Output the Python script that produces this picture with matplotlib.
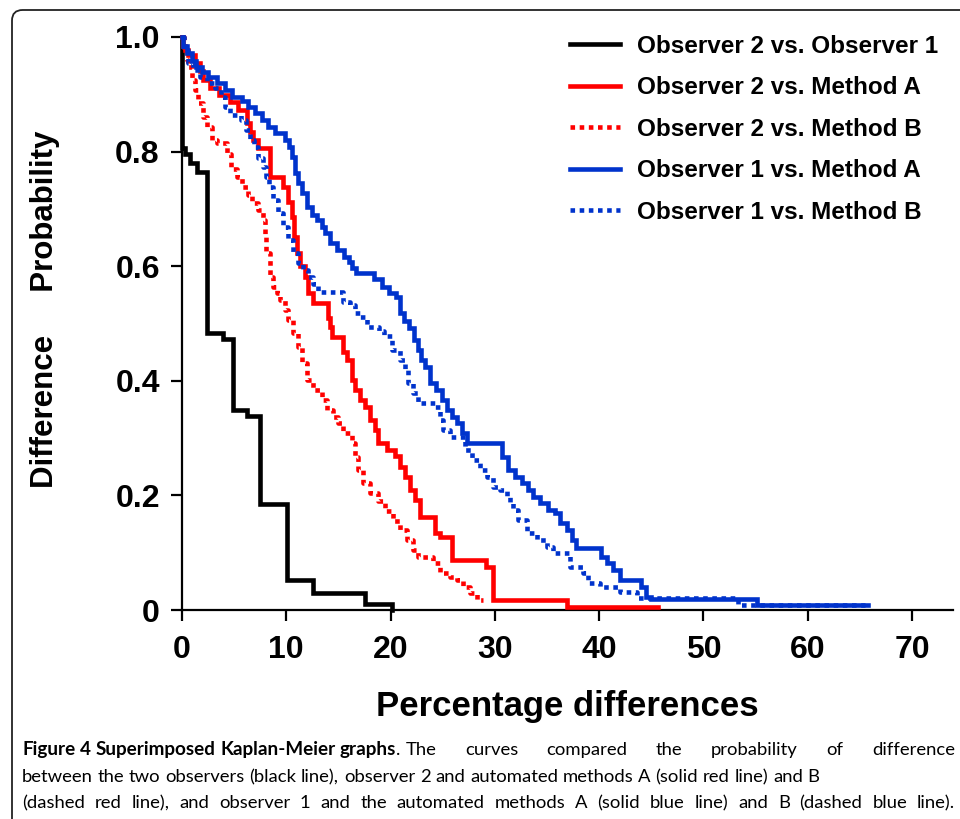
import matplotlib
matplotlib.use("Agg")
import matplotlib.pyplot as plt
from matplotlib.patches import FancyBboxPatch

# ---------------- data (Kaplan-Meier step curves) ----------------
obs2_obs1_t = [0, 0, 0.3, 0.8, 1.4, 2.4, 3.9, 4.9, 6.2, 7.5, 10.1, 12.6, 17.5, 20.1]
obs2_obs1_s = [1.0, 0.806, 0.795, 0.78, 0.765, 0.483, 0.473, 0.349, 0.339, 0.185, 0.052, 0.030, 0.010, 0.0]

obs2_mA_t = [0, 0.1, 0.3, 0.6, 1.2, 1.7, 2.0, 2.7, 3.5, 4.6, 5.4, 6.2, 6.5, 6.8, 7.3, 8.4, 9.7, 10.2, 10.5, 10.7,
             11.0, 11.3, 11.8, 12.1, 12.6, 14.0, 14.2, 14.4, 15.4, 15.8, 16.3, 16.6, 17.1, 17.5, 18.0, 18.5, 18.8,
             19.7, 20.4, 20.9, 21.4, 21.9, 22.3, 22.8, 24.3, 24.7, 25.9, 29.1, 29.8, 36.9, 45.6]
obs2_mA_s = [1.0, 0.985, 0.977, 0.969, 0.955, 0.94, 0.925, 0.911, 0.899, 0.887, 0.873, 0.85, 0.835, 0.82, 0.806,
             0.756, 0.738, 0.712, 0.686, 0.651, 0.623, 0.60, 0.581, 0.553, 0.536, 0.51, 0.494, 0.476, 0.45, 0.436,
             0.401, 0.384, 0.366, 0.354, 0.332, 0.314, 0.291, 0.279, 0.268, 0.25, 0.232, 0.209, 0.192, 0.162,
             0.134, 0.127, 0.087, 0.075, 0.017, 0.005, 0.005]

obs2_mB_t = [0, 0.2, 0.5, 0.6, 1.0, 1.2, 1.5, 2.0, 2.4, 2.9, 3.4, 4.3, 4.7, 5.3, 5.8, 6.3, 6.7, 7.3, 7.8, 8.0,
             8.1, 8.4, 8.7, 9.1, 9.4, 9.9, 10.2, 10.6, 11.1, 11.5, 12.0, 12.6, 13.4, 13.9, 14.5, 15.0, 15.4, 16.3,
             16.6, 16.9, 17.4, 18.0, 18.8, 19.5, 20.2, 20.9, 21.6, 22.1, 22.6, 24.1, 24.7, 25.7, 26.4, 26.9, 27.6,
             28.3, 28.9]
obs2_mB_s = [1.0, 0.98, 0.96, 0.948, 0.925, 0.907, 0.885, 0.86, 0.843, 0.82, 0.815, 0.795, 0.77, 0.756, 0.738,
             0.725, 0.71, 0.698, 0.681, 0.651, 0.623, 0.581, 0.564, 0.553, 0.541, 0.524, 0.506, 0.483, 0.459, 0.431,
             0.401, 0.384, 0.366, 0.349, 0.337, 0.326, 0.309, 0.291, 0.267, 0.244, 0.222, 0.204, 0.19, 0.172, 0.155,
             0.14, 0.122, 0.105, 0.093, 0.082, 0.065, 0.058, 0.052, 0.04, 0.03, 0.017, 0.017]

obs1_mA_t = [0, 0.1, 0.5, 1.0, 1.3, 1.9, 2.5, 3.4, 4.1, 4.8, 5.8, 6.3, 7.0, 7.7, 8.2, 8.9, 9.9, 10.3, 10.5, 10.8,
             11.1, 11.5, 12.0, 12.5, 12.9, 13.4, 13.7, 14.2, 14.9, 15.5, 16.0, 16.3, 16.7, 18.4, 19.2, 19.8, 20.5,
             20.9, 21.3, 21.8, 22.2, 22.6, 22.9, 23.3, 23.8, 24.4, 24.9, 25.4, 25.9, 26.4, 26.8, 27.3, 30.7, 31.3,
             31.9, 32.6, 33.2, 33.7, 34.3, 35.1, 35.8, 36.2, 36.9, 37.4, 37.8, 40.2, 40.7, 41.3, 42.0, 44.0, 44.5,
             45.0, 55.1, 65.8]
obs1_mA_s = [1.0, 0.985, 0.972, 0.958, 0.948, 0.939, 0.93, 0.92, 0.907, 0.895, 0.888, 0.878, 0.867, 0.855, 0.843,
             0.832, 0.82, 0.808, 0.79, 0.763, 0.745, 0.727, 0.703, 0.689, 0.681, 0.668, 0.658, 0.641, 0.628, 0.616,
             0.607, 0.596, 0.588, 0.578, 0.564, 0.553, 0.546, 0.518, 0.505, 0.492, 0.471, 0.454, 0.436, 0.424,
             0.396, 0.384, 0.366, 0.349, 0.337, 0.326, 0.309, 0.291, 0.267, 0.244, 0.232, 0.222, 0.209, 0.197,
             0.187, 0.175, 0.169, 0.152, 0.14, 0.122, 0.108, 0.093, 0.082, 0.07, 0.052, 0.04, 0.023, 0.019, 0.009,
             0.009]

obs1_mB_t = [0, 0.2, 0.6, 1.05, 1.7, 2.4, 3.2, 3.7, 4.1, 4.6, 5.7, 6.1, 6.5, 6.9, 7.3, 7.8, 8.1, 8.3, 8.7, 9.2,
             9.7, 10.2, 10.6, 11.1, 11.6, 12.1, 12.6, 13.0, 15.4, 16.1, 16.6, 17.1, 17.7, 18.9, 19.4, 20.1, 20.9,
             21.4, 21.7, 22.1, 22.6, 24.3, 24.7, 25.0, 25.7, 27.1, 27.8, 28.6, 29.2, 29.8, 30.5, 31.2, 31.4, 31.7,
             32.2, 33.1, 34.0, 35.0, 35.6, 37.2, 38.4, 38.9, 40.1, 42.0, 43.6, 53.3, 65.5]
obs1_mB_s = [1.0, 0.977, 0.955, 0.942, 0.93, 0.92, 0.911, 0.895, 0.878, 0.864, 0.855, 0.838, 0.82, 0.808, 0.789,
             0.773, 0.756, 0.738, 0.716, 0.693, 0.668, 0.646, 0.623, 0.606, 0.593, 0.581, 0.569, 0.555, 0.538, 0.532,
             0.518, 0.511, 0.494, 0.487, 0.478, 0.454, 0.436, 0.42, 0.396, 0.379, 0.361, 0.354, 0.332, 0.314, 0.302,
             0.279, 0.262, 0.244, 0.232, 0.215, 0.209, 0.197, 0.187, 0.175, 0.157, 0.134, 0.122, 0.11, 0.099, 0.075,
             0.064, 0.047, 0.04, 0.031, 0.021, 0.009, 0.009]

series_labels = ["Observer 2 vs. Observer 1", "Observer 2 vs. Method A", "Observer 2 vs. Method B",
                 "Observer 1 vs. Method A", "Observer 1 vs. Method B"]
x_ticks = [0, 10, 20, 30, 40, 50, 60, 70]
y_ticks = [0, 0.2, 0.4, 0.6, 0.8, 1.0]
y_tick_labels = ["0", "0.2", "0.4", "0.6", "0.8", "1.0"]

caption_bold = "Figure 4 Superimposed Kaplan-Meier graphs"
caption_rest = ". The curves compared the probability of difference"
caption_line2 = "between the two observers (black line), observer 2 and automated methods A (solid red line) and B"
caption_line3 = "(dashed red line), and observer 1 and the automated methods A (solid blue line) and B (dashed blue line)."

# ---------------- figure ----------------
W, H = 960, 819
fig = plt.figure(figsize=(W / 100, H / 100), dpi=100)
FONT = "Liberation Sans"
RED = "#ff0000"
BLUE = "#0033cc"

# rounded frame around the figure panel
frame = FancyBboxPatch((12 / W, -0.05), 1.2, 1.05 - 10 / H,
                       boxstyle="round,pad=0,rounding_size=0.011", mutation_aspect=W / H,
                       transform=fig.transFigure, fill=False, edgecolor="#222222", linewidth=1.3)
fig.patches.append(frame)

x0, x1 = 182, 953
y0, y1 = 610, 37
ax = fig.add_axes([x0 / W, 1 - y0 / H, (x1 - x0) / W, (y0 - y1) / H])
ax.set_xlim(0, (x1 - x0) / 10.43)
ax.set_ylim(0, 1.0)

lw = 3.3
dot = (0, (1, 1))
ax.step(obs2_obs1_t, obs2_obs1_s, where="post", color="black", lw=lw, clip_on=False, label=series_labels[0],
        solid_joinstyle="miter", zorder=3)
ax.step(obs2_mA_t, obs2_mA_s, where="post", color=RED, lw=lw, clip_on=False, label=series_labels[1],
        solid_joinstyle="miter", zorder=3)
ax.step(obs2_mB_t, obs2_mB_s, where="post", color=RED, lw=lw, ls=dot, clip_on=False, label=series_labels[2],
        zorder=3)
ax.step(obs1_mB_t, obs1_mB_s, where="post", color=BLUE, lw=lw, ls=dot, clip_on=False, label=series_labels[4],
        zorder=3)
ax.step(obs1_mA_t, obs1_mA_s, where="post", color=BLUE, lw=lw, clip_on=False, label=series_labels[3],
        solid_joinstyle="miter", zorder=4)

for side in ("top", "right"):
    ax.spines[side].set_visible(False)
for side in ("left", "bottom"):
    ax.spines[side].set_linewidth(1.6)

ax.set_xticks(x_ticks)
ax.set_xticklabels([str(v) for v in x_ticks])
ax.set_yticks(y_ticks)
ax.set_yticklabels(y_tick_labels)
ax.tick_params(axis="both", direction="out", length=8, width=1.6, colors="black")
ax.tick_params(axis="x", pad=10)
ax.tick_params(axis="y", pad=8)
for lab in ax.get_xticklabels() + ax.get_yticklabels():
    lab.set_fontfamily(FONT)
    lab.set_fontweight("bold")
    lab.set_fontsize(23)

ax.set_xlabel("Percentage differences", fontfamily=FONT, fontweight="bold", fontsize=25, labelpad=18)
fig.text(45 / W, 1 - 309 / H, "Difference     Probability", rotation=90, ha="center", va="center",
         fontfamily=FONT, fontweight="bold", fontsize=22.5)

handles, labels = ax.get_legend_handles_labels()
order = [labels.index(l) for l in series_labels]
leg = ax.legend([handles[i] for i in order], [labels[i] for i in order],
                loc="upper left", bbox_to_anchor=(570 / W, 1 - 35 / H), bbox_transform=fig.transFigure,
                frameon=False, borderpad=0, borderaxespad=0, handlelength=2.05, handletextpad=0.7,
                labelspacing=0.76, prop={"family": FONT, "weight": "bold", "size": 17.5})

# ---------------- caption (word by word) ----------------
cap_font = "Lato"
cap_size = 13.3
bold_size = 13.6
fig.canvas.draw()
r = fig.canvas.get_renderer()
LEFT, RIGHT = 22, 955


def measure(txt, bold, size):
    t = fig.text(0, 0, txt, fontfamily=cap_font, fontsize=size, fontweight="bold" if bold else "normal")
    w = t.get_window_extent(renderer=r).width
    t.remove()
    return w


def space_width(bold, size):
    return measure("a a", bold, size) - measure("aa", bold, size)


def put(x_px, base_px, txt, bold=False, size=cap_size):
    fig.text(x_px / W, 1 - base_px / H, txt, fontfamily=cap_font, fontsize=size,
             fontweight="bold" if bold else "normal", va="baseline", ha="left")
    return measure(txt, bold, size)


def place_words(words, base_px, x_start, x_end=None, bold=False, size=cap_size):
    widths = [measure(w, bold, size) for w in words]
    if x_end is None:
        gap = space_width(bold, size)
    else:
        gap = (x_end - x_start - sum(widths)) / (len(words) - 1)
    x = x_start
    for w, wd in zip(words, widths):
        put(x, base_px, w, bold, size)
        x += wd + gap
    return x - gap


# line 1: bold lead-in at natural spacing, rest spread to the right edge
xb = place_words(caption_bold.split(" "), 755, LEFT, None, bold=True, size=bold_size)
rest_words = caption_rest.split(" ")
xd = xb + put(xb, 755, rest_words[0])
place_words(rest_words[1:], 755, xd + space_width(False, cap_size), RIGHT)
# line 2: natural spacing
place_words(caption_line2.split(" "), 782, LEFT)
# line 3: justified
place_words(caption_line3.split(" "), 808, LEFT, RIGHT)

fig.savefig("out.png", dpi=100)
